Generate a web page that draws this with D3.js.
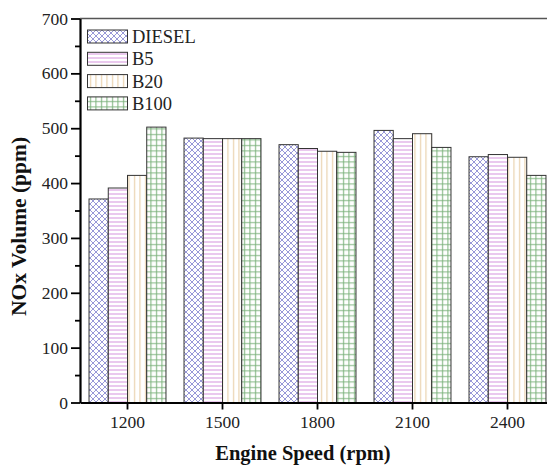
<!DOCTYPE html>
<html>
<head>
<meta charset="utf-8">
<script src="https://cdn.jsdelivr.net/npm/d3@7/dist/d3.min.js"></script>
<style>
  html, body { margin: 0; padding: 0; background: #fff; }
  svg { display: block; }
  svg text { font-family: "Liberation Serif", "Times New Roman", Tinos, serif; }
</style>
</head>
<body>
<div id="chart"></div>
<script>
const categories = ["1200", "1500", "1800", "2100", "2400"];
const seriesNames = ["DIESEL", "B5", "B20", "B100"];
const diesel = [371, 482, 470, 496, 448];
const b5 = [391, 481, 463, 481, 452];
const b20 = [414, 481, 458, 490, 447];
const b100 = [502, 481, 456, 465, 414];
const yTicks = [0, 100, 200, 300, 400, 500, 600, 700];
const yMinorTicks = [50, 150, 250, 350, 450, 550, 650];
const xTitle = "Engine Speed (rpm)";
const yTitle = "NOx Volume (ppm)";

const seriesValues = [diesel, b5, b20, b100];
const FONT = "'Liberation Serif', 'Times New Roman', serif";

const W = 547, H = 466;
const svg = d3.select("#chart").append("svg").attr("width", W).attr("height", H)
  .attr("font-family", FONT);

// patterns
const defs = svg.append("defs");
function pat(id, size, draw) {
  const p = defs.append("pattern").attr("id", id).attr("patternUnits", "userSpaceOnUse")
    .attr("width", size).attr("height", size);
  p.append("rect").attr("width", size).attr("height", size).attr("fill", "#fff");
  draw(p, size);
}
pat("p0", 6, (p, s) => {
  p.append("path").attr("d", `M0,0L${s},${s}M${s},0L0,${s}M-1,${s-1}L1,${s+1}M${s-1},-1L${s+1},1M-1,1L1,-1M${s-1},${s+1}L${s+1},${s-1}`)
    .attr("stroke", "#8c8cd4").attr("stroke-width", 0.9).attr("fill", "none");
});
pat("p1", 4, (p, s) => {
  p.append("line").attr("x1", 0).attr("x2", s).attr("y1", 2).attr("y2", 2)
    .attr("stroke", "#d99de0").attr("stroke-width", 1.1);
});
pat("p2", 5.5, (p, s) => {
  p.append("line").attr("x1", 2.5).attr("x2", 2.5).attr("y1", 0).attr("y2", s)
    .attr("stroke", "#e9cfa8").attr("stroke-width", 1.1);
});
pat("p3", 5.5, (p, s) => {
  p.append("path").attr("d", `M2.5,0V${s}M0,2.5H${s}`)
    .attr("stroke", "#78b078").attr("stroke-width", 1).attr("fill", "none");
});
const fills = ["url(#p0)", "url(#p1)", "url(#p2)", "url(#p3)"];

const x = d3.scaleBand().domain(categories).range([80, 555]).paddingInner(0.19).paddingOuter(0.095);
const xs = d3.scaleBand().domain(seriesNames).range([0, x.bandwidth()]);
const y = d3.scaleLinear().domain([0, 700]).range([402.5, 18.5]);

// bars
seriesNames.forEach((s, si) => {
  svg.append("g").selectAll("rect").data(categories).join("rect")
    .attr("x", c => x(c) + xs(s))
    .attr("y", (c, i) => y(seriesValues[si][i]))
    .attr("width", xs.bandwidth())
    .attr("height", (c, i) => y(0) - y(seriesValues[si][i]))
    .attr("fill", fills[si])
    .attr("stroke", "#333")
    .attr("stroke-width", 1);
});

// top frame line
svg.append("line").attr("x1", 80).attr("x2", W).attr("y1", y(700)).attr("y2", y(700))
  .attr("stroke", "#555").attr("stroke-width", 1.6);

// y axis
const yAxis = svg.append("g").attr("transform", "translate(80,0)")
  .call(d3.axisLeft(y).tickValues(yTicks).tickSize(9).tickSizeOuter(0).tickPadding(3));
yAxis.attr("font-family", FONT);
yAxis.select(".domain").attr("stroke", "#000").attr("stroke-width", 2.2);
yAxis.selectAll(".tick line").attr("stroke", "#000").attr("stroke-width", 1.8);
yAxis.selectAll(".tick text").attr("font-size", 17.5).attr("fill", "#222");
svg.append("g").attr("transform", "translate(80,0)")
  .call(d3.axisLeft(y).tickValues(yMinorTicks).tickSize(5).tickFormat(""))
  .call(g => g.select(".domain").remove())
  .selectAll("line").attr("stroke", "#000").attr("stroke-width", 1.8);

// x axis
const xAxis = svg.append("g").attr("transform", `translate(0,${y(0)})`)
  .call(d3.axisBottom(x).tickSize(7).tickSizeOuter(0).tickPadding(6));
xAxis.attr("font-family", FONT);
xAxis.select(".domain").attr("stroke", "#000").attr("stroke-width", 2.2);
xAxis.selectAll(".tick line").attr("stroke", "#000").attr("stroke-width", 1.8);
xAxis.selectAll(".tick text").attr("font-size", 17.5).attr("fill", "#222");

// titles
svg.append("text").attr("x", 303).attr("y", 460).attr("text-anchor", "middle")
  .attr("font-size", 20.5).attr("font-weight", "bold").attr("fill", "#111").text(xTitle);
svg.append("text").attr("transform", "translate(25.5,226.5) rotate(-90)").attr("text-anchor", "middle")
  .attr("font-size", 21.5).attr("font-weight", "bold").attr("fill", "#111").text(yTitle);

// legend
const lg = svg.append("g");
seriesNames.forEach((s, i) => {
  const ty = 30 + i * 22.3;
  lg.append("rect").attr("x", 87.5).attr("y", ty).attr("width", 40).attr("height", 13)
    .attr("fill", fills[i]).attr("stroke", "#333").attr("stroke-width", 1);
  lg.append("text").attr("x", 132).attr("y", ty + 13).attr("font-size", 18.5)
    .attr("fill", "#222").text(s);
});
</script>
</body>
</html>
